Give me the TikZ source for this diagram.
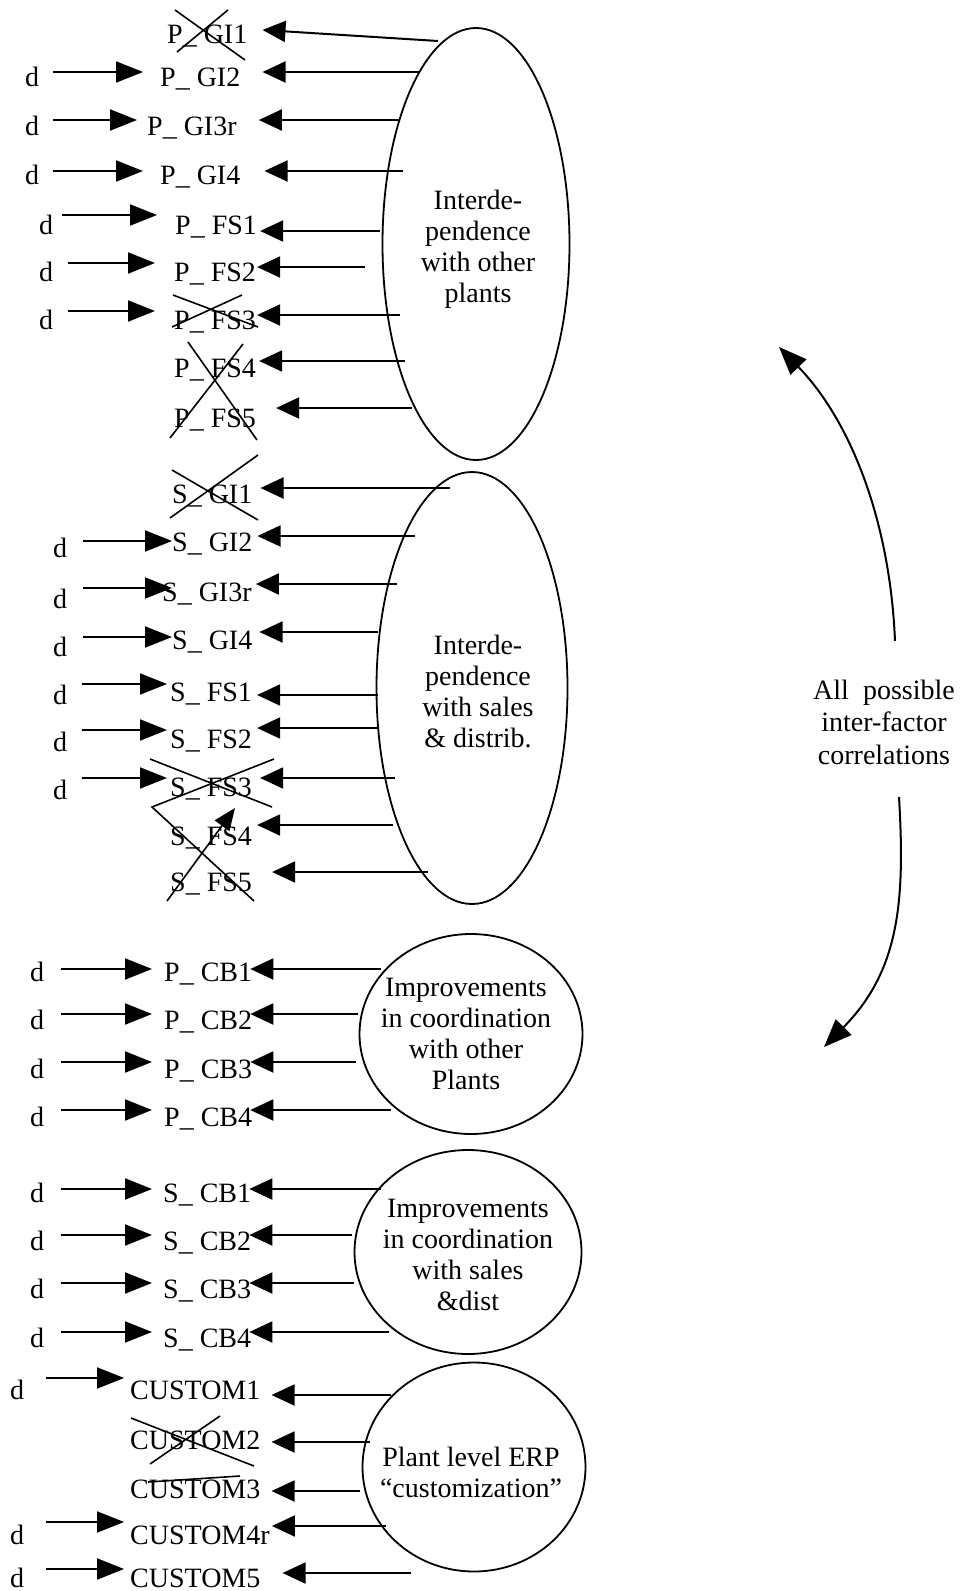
\documentclass[tikz,border=0pt]{standalone}
\usepackage{fontspec}
\setmainfont{Liberation Serif}
\usetikzlibrary{arrows.meta,shapes.geometric}
\newcommand\fsz{\fontsize{28}{31}\selectfont}
\begin{document}
\begin{tikzpicture}[x=1pt,y=-1pt,
  dlbl/.style={inner sep=0pt, font=\fsz, anchor=base},
  itm/.style={inner sep=0pt, font=\fsz, anchor=base west},
  darr/.style={line width=2pt, -{Triangle[length=27pt,width=21pt]}},
  barr/.style={line width=2pt, -{Triangle[length=23pt,width=21pt]}},
  carr/.style={line width=2pt, -{Triangle[length=28pt,width=22pt]}},
  xout/.style={line width=1.6pt},
  fac/.style={draw, ellipse, line width=1.8pt, inner sep=0pt},
  factxt/.style={inner sep=0pt, align=center, font=\fsz},
]
\useasboundingbox[fill=white] (0,0) rectangle (961,1591);

% ---------- factors ----------
\node[fac, minimum width=187pt, minimum height=432pt] (e1) at (476,244) {};
\node[factxt] (e1t) at (478,249) {Interde-\\pendence\\with other\\plants};
\node[fac, minimum width=191pt, minimum height=432pt] (e2) at (472,688) {};
\node[factxt] (e2t) at (478,691) {Interde-\\pendence\\with sales\\\& distrib.};
\node[fac, minimum width=223pt, minimum height=200pt] (c1) at (471,1034) {};
\node[factxt] (c1t) at (466,1034) {Improvements\\in coordination\\with other\\Plants};
\node[fac, minimum width=227pt, minimum height=204pt] (c2) at (468,1252) {};
\node[factxt] (c2t) at (468,1255) {Improvements\\in coordination\\with sales\\\&dist};
\node[fac, minimum width=223pt, minimum height=209pt] (c3) at (474,1467) {};
\node[factxt] (c3t) at (471,1472) {Plant level ERP\\“customization”};

% ---------- group P (interdependence with other plants) ----------
\node[itm] (pgi1) at (167,43) {P\_ GI1};
\coordinate (b-pgi1) at (438,41);
\draw[barr, shorten >=15pt] (b-pgi1) -- (pgi1.east |- 0,29);
\draw[xout] (175,10) -- (245,60) (228,10) -- (177,52);

\node[itm] (pgi2) at (160,86) {P\_ GI2};
\node[dlbl] (d-pgi2) at (32,86) {d};
\draw[darr, shorten <=14pt, shorten >=17pt] (d-pgi2.east |- 0,72) -- (pgi2.west |- 0,72);
\coordinate (b-pgi2) at (420,72);
\draw[barr, shorten >=22pt] (b-pgi2) -- (pgi2.east |- b-pgi2);

\node[itm] (pgi3) at (147,135) {P\_ GI3r};
\node[dlbl] (d-pgi3) at (32,135) {d};
\draw[darr, shorten <=14pt, shorten >=10pt] (d-pgi3.east |- 0,120) -- (pgi3.west |- 0,120);
\coordinate (b-pgi3) at (400,120);
\draw[barr, shorten >=22pt] (b-pgi3) -- (pgi3.east |- b-pgi3);

\node[itm] (pgi4) at (160,184) {P\_ GI4};
\node[dlbl] (d-pgi4) at (32,184) {d};
\draw[darr, shorten <=14pt, shorten >=17pt] (d-pgi4.east |- 0,171) -- (pgi4.west |- 0,171);
\coordinate (b-pgi4) at (403,171);
\draw[barr, shorten >=24pt] (b-pgi4) -- (pgi4.east |- b-pgi4);

\node[itm] (pfs1) at (175,234) {P\_ FS1};
\node[dlbl] (d-pfs1) at (46,234) {d};
\draw[darr, shorten <=9pt, shorten >=18pt] (d-pfs1.east |- 0,215) -- (pfs1.west |- 0,215);
\coordinate (b-pfs1) at (380,231);
\draw[barr, shorten >=3pt] (b-pfs1) -- (pfs1.east |- b-pfs1);

\node[itm] (pfs2) at (174,281) {P\_ FS2};
\node[dlbl] (d-pfs2) at (46,281) {d};
\draw[darr, shorten <=15pt, shorten >=19pt] (d-pfs2.east |- 0,263) -- (pfs2.west |- 0,263);
\coordinate (b-pfs2) at (365,267);
\draw[barr, shorten >=1pt] (b-pfs2) -- (pfs2.east |- b-pfs2);

\node[itm] (pfs3) at (174,329) {P\_ FS3};
\node[dlbl] (d-pfs3) at (46,329) {d};
\draw[darr, shorten <=15pt, shorten >=19pt] (d-pfs3.east |- 0,311) -- (pfs3.west |- 0,311);
\coordinate (b-pfs3) at (400,315);
\draw[barr, shorten >=1pt] (b-pfs3) -- (pfs3.east |- b-pfs3);
\draw[xout] (172,327) -- (242,295) (173,295) -- (258,327);

\node[itm] (pfs4) at (174,377) {P\_ FS4};
\coordinate (b-pfs4) at (405,361);
\draw[barr, shorten >=3pt] (b-pfs4) -- (pfs4.east |- b-pfs4);

\node[itm] (pfs5) at (174,427) {P\_ FS5};
\coordinate (b-pfs5) at (412,408);
\draw[barr, shorten >=20pt] (b-pfs5) -- (pfs5.east |- b-pfs5);
\draw[xout] (188,342) -- (257,440) (243,344) -- (170,438);

% ---------- group S (interdependence with sales & distrib.) ----------
\node[itm] (sgi1) at (172,503) {S\_ GI1};
\coordinate (b-sgi1) at (450,488);
\draw[barr, shorten >=8pt] (b-sgi1) -- (sgi1.east |- b-sgi1);
\draw[xout] (172,470) -- (258,520) (258,455) -- (170,518);

\node[itm] (sgi2) at (172,551) {S\_ GI2};
\node[dlbl] (d-sgi2) at (60,557) {d};
\draw[darr, shorten <=16pt] (d-sgi2.east |- 0,541) -- (sgi2.west |- 0,541);
\coordinate (b-sgi2) at (415,536);
\draw[barr, shorten >=5pt] (b-sgi2) -- (sgi2.east |- b-sgi2);

\node[itm] (sgi3) at (162,601) {S\_ GI3r};
\node[dlbl] (d-sgi3) at (60,608) {d};
\draw[darr, shorten <=16pt, shorten >=-10pt] (d-sgi3.east |- 0,588) -- (sgi3.west |- 0,588);
\coordinate (b-sgi3) at (397,584);
\draw[barr, shorten >=4pt] (b-sgi3) -- (sgi3.east |- b-sgi3);

\node[itm] (sgi4) at (172,649) {S\_ GI4};
\node[dlbl] (d-sgi4) at (60,656) {d};
\draw[darr, shorten <=16pt] (d-sgi4.east |- 0,637) -- (sgi4.west |- 0,637);
\coordinate (b-sgi4) at (378,632);
\draw[barr, shorten >=7pt] (b-sgi4) -- (sgi4.east |- b-sgi4);

\node[itm] (sfs1) at (170,701) {S\_ FS1};
\node[dlbl] (d-sfs1) at (60,704) {d};
\draw[darr, shorten <=15pt, shorten >=3pt] (d-sfs1.east |- 0,684) -- (sfs1.west |- 0,684);
\coordinate (b-sfs1) at (378,695);
\draw[barr, shorten >=5pt] (b-sfs1) -- (sfs1.east |- b-sfs1);

\node[itm] (sfs2) at (170,748) {S\_ FS2};
\node[dlbl] (d-sfs2) at (60,751) {d};
\draw[darr, shorten <=15pt, shorten >=3pt] (d-sfs2.east |- 0,730) -- (sfs2.west |- 0,730);
\coordinate (b-sfs2) at (378,728);
\draw[barr, shorten >=5pt] (b-sfs2) -- (sfs2.east |- b-sfs2);

\node[itm] (sfs3) at (170,796) {S\_ FS3};
\node[dlbl] (d-sfs3) at (60,799) {d};
\draw[darr, shorten <=15pt, shorten >=3pt] (d-sfs3.east |- 0,778) -- (sfs3.west |- 0,778);
\coordinate (b-sfs3) at (395,778);
\draw[barr, shorten >=8pt] (b-sfs3) -- (sfs3.east |- b-sfs3);

\node[itm] (sfs4) at (170,845) {S\_ FS4};
\coordinate (b-sfs4) at (393,825);
\draw[barr, shorten >=5pt] (b-sfs4) -- (sfs4.east |- b-sfs4);

\node[itm] (sfs5) at (170,891) {S\_ FS5};
\coordinate (b-sfs5) at (428,872);
\draw[barr, shorten >=20pt] (b-sfs5) -- (sfs5.east |- b-sfs5);

\draw[xout] (150,759) -- (272,807);
\draw[xout] (274,759) -- (152,807) -- (254,901);
\draw[xout, -{Triangle[length=22pt,width=18pt]}] (167,901) -- (235,808);

% ---------- group P_CB ----------
\node[itm] (pcb1) at (164,981) {P\_ CB1};
\node[dlbl] (d-pcb1) at (37,981) {d};
\draw[darr, shorten <=17pt, shorten >=12pt] (d-pcb1.east |- 0,969) -- (pcb1.west |- 0,969);
\coordinate (b-pcb1) at (381,969);
\draw[barr, shorten >=-2pt] (b-pcb1) -- (pcb1.east |- b-pcb1);

\node[itm] (pcb2) at (164,1029) {P\_ CB2};
\node[dlbl] (d-pcb2) at (37,1029) {d};
\draw[darr, shorten <=17pt, shorten >=12pt] (d-pcb2.east |- 0,1014) -- (pcb2.west |- 0,1014);
\coordinate (b-pcb2) at (358,1014);
\draw[barr, shorten >=-2pt] (b-pcb2) -- (pcb2.east |- b-pcb2);

\node[itm] (pcb3) at (164,1078) {P\_ CB3};
\node[dlbl] (d-pcb3) at (37,1078) {d};
\draw[darr, shorten <=17pt, shorten >=12pt] (d-pcb3.east |- 0,1062) -- (pcb3.west |- 0,1062);
\coordinate (b-pcb3) at (356,1062);
\draw[barr, shorten >=-2pt] (b-pcb3) -- (pcb3.east |- b-pcb3);

\node[itm] (pcb4) at (164,1126) {P\_ CB4};
\node[dlbl] (d-pcb4) at (37,1126) {d};
\draw[darr, shorten <=17pt, shorten >=12pt] (d-pcb4.east |- 0,1110) -- (pcb4.west |- 0,1110);
\coordinate (b-pcb4) at (391,1110);
\draw[barr, shorten >=-2pt] (b-pcb4) -- (pcb4.east |- b-pcb4);

% ---------- group S_CB ----------
\node[itm] (scb1) at (163,1202) {S\_ CB1};
\node[dlbl] (d-scb1) at (37,1202) {d};
\draw[darr, shorten <=17pt, shorten >=11pt] (d-scb1.east |- 0,1189) -- (scb1.west |- 0,1189);
\coordinate (b-scb1) at (381,1189);
\draw[barr, shorten >=-2pt] (b-scb1) -- (scb1.east |- b-scb1);

\node[itm] (scb2) at (163,1250) {S\_ CB2};
\node[dlbl] (d-scb2) at (37,1250) {d};
\draw[darr, shorten <=17pt, shorten >=11pt] (d-scb2.east |- 0,1235) -- (scb2.west |- 0,1235);
\coordinate (b-scb2) at (352,1235);
\draw[barr, shorten >=-2pt] (b-scb2) -- (scb2.east |- b-scb2);

\node[itm] (scb3) at (163,1298) {S\_ CB3};
\node[dlbl] (d-scb3) at (37,1298) {d};
\draw[darr, shorten <=17pt, shorten >=11pt] (d-scb3.east |- 0,1283) -- (scb3.west |- 0,1283);
\coordinate (b-scb3) at (354,1283);
\draw[barr, shorten >=-2pt] (b-scb3) -- (scb3.east |- b-scb3);

\node[itm] (scb4) at (163,1347) {S\_ CB4};
\node[dlbl] (d-scb4) at (37,1347) {d};
\draw[darr, shorten <=17pt, shorten >=11pt] (d-scb4.east |- 0,1332) -- (scb4.west |- 0,1332);
\coordinate (b-scb4) at (389,1332);
\draw[barr, shorten >=-2pt] (b-scb4) -- (scb4.east |- b-scb4);

% ---------- group CUSTOM ----------
\node[itm] (cu1) at (130,1399) {CUSTOM1};
\node[dlbl] (d-cu1) at (17,1399) {d};
\draw[darr, shorten <=22pt, shorten >=6pt] (d-cu1.east |- 0,1378) -- (cu1.west |- 0,1378);
\coordinate (b-cu1) at (391,1395);
\draw[barr, shorten >=11pt] (b-cu1) -- (cu1.east |- b-cu1);

\node[itm] (cu2) at (130,1449) {CUSTOM2};
\coordinate (b-cu2) at (370,1442);
\draw[barr, shorten >=11pt] (b-cu2) -- (cu2.east |- b-cu2);
\draw[xout] (131,1418) -- (254,1466) (220,1416) -- (150,1464);

\node[itm] (cu3) at (130,1498) {CUSTOM3};
\coordinate (b-cu3) at (360,1491);
\draw[barr, shorten >=11pt] (b-cu3) -- (cu3.east |- b-cu3);
\draw[xout] (148,1482) -- (240,1476);

\node[itm] (cu4) at (130,1544) {CUSTOM4r};
\node[dlbl] (d-cu4) at (17,1544) {d};
\draw[darr, shorten <=22pt, shorten >=6pt] (d-cu4.east |- 0,1522) -- (cu4.west |- 0,1522);
\coordinate (b-cu4) at (386,1526);
\draw[barr, shorten >=2pt] (b-cu4) -- (cu4.east |- b-cu4);

\node[itm] (cu5) at (130,1587) {CUSTOM5};
\node[dlbl] (d-cu5) at (17,1587) {d};
\draw[darr, shorten <=22pt, shorten >=6pt] (d-cu5.east |- 0,1569) -- (cu5.west |- 0,1569);
\coordinate (b-cu5) at (411,1573);
\draw[barr, shorten >=22pt] (b-cu5) -- (cu5.east |- b-cu5);

% ---------- inter-factor correlations ----------
\node[inner sep=0pt, align=center, font=\fontsize{28}{32.5}\selectfont] (corr) at (884,722) {All~~possible\\inter-factor\\correlations};
\coordinate (up-start) at (895,641);
\coordinate (up-tip) at (779,347);
\coordinate (lo-start) at (899,797);
\coordinate (lo-tip) at (824,1047);
\draw[carr] (up-start) .. controls (890,520) and (850,420) .. (up-tip);
\draw[carr] (lo-start) .. controls (905,900) and (900,970) .. (lo-tip);
\end{tikzpicture}
\end{document}
